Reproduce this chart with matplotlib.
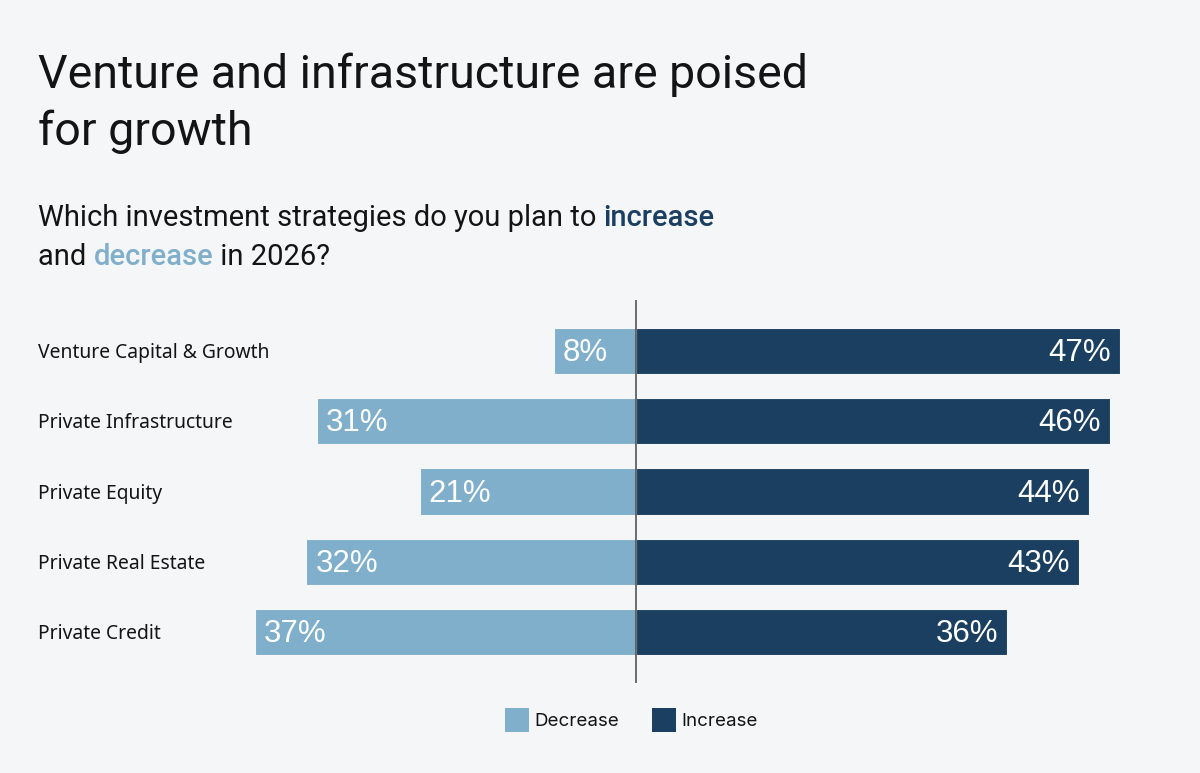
import matplotlib
matplotlib.use("Agg")
import matplotlib.pyplot as plt
import matplotlib.transforms as mtransforms
from matplotlib.patches import Rectangle

categories = ["Venture Capital & Growth", "Private Infrastructure", "Private Equity",
              "Private Real Estate", "Private Credit"]
decrease = [8, 31, 21, 32, 37]
increase = [47, 46, 44, 43, 36]

title_lines = ["Venture and infrastructure are poised", "for growth"]
sub_pieces_1 = [("Which investment strategies do you plan to ", "normal"), ("increase", "inc")]
sub_pieces_2 = [("and ", "normal"), ("decrease", "dec"), (" in 2026?", "normal")]
legend_labels = ["Decrease", "Increase"]

BG = "#f5f6f8"
C_DEC = "#7fafca"
C_INC = "#1b3f60"
TXT = "#141414"

W, H = 1200, 773
fig = plt.figure(figsize=(W / 100, H / 100), dpi=100, facecolor=BG)


def fx(px):
    return px / W


def fy(py):
    return 1 - py / H


# axes placement (pixels)
ax_l, ax_r, ax_t, ax_b = 230, 1160, 300, 683
ax = fig.add_axes([fx(ax_l), fy(ax_b), fx(ax_r) - fx(ax_l), (ax_b - ax_t) / H])
ax.set_facecolor(BG)
k = 10.3  # px per percent
zero_px = 636
ax.set_xlim(-(zero_px - ax_l) / k, (ax_r - zero_px) / k)
ax.set_ylim(4.72, -0.72)
for s in ax.spines.values():
    s.set_visible(False)
ax.set_xticks([])
ax.set_yticks([])

y = list(range(len(categories)))
bh = 0.655
ax.barh(y, [-d for d in decrease], height=bh, color=C_DEC, edgecolor=BG, linewidth=0.8)
ax.barh(y, increase, height=bh, color=C_INC, edgecolor=BG, linewidth=0.8)
ax.axvline(0, color="#555555", linewidth=1.2)

pad = 9 / k
for i, (d, v) in enumerate(zip(decrease, increase)):
    ax.text(-d + pad, i + 0.03, f"{d}%", ha="left", va="center", color="white",
            fontsize=22.5, family="Liberation Sans")
    ax.text(v - pad, i + 0.03, f"{v}%", ha="right", va="center", color="white",
            fontsize=22.5, family="Liberation Sans")

# category labels
trans = mtransforms.blended_transform_factory(fig.transFigure, ax.transData)
for i, c in enumerate(categories):
    ax.text(fx(38), i + 0.03, c, transform=trans, ha="left", va="center", color=TXT,
            fontsize=13.9, family="Noto Sans")

# title
for line, base in zip(title_lines, [88, 145]):
    fig.text(fx(38), fy(base), line, ha="left", va="baseline", color=TXT,
             fontsize=33.5, family="Roboto", fontweight="normal")

# subtitle with coloured words
renderer = fig.canvas.get_renderer()
styles = {"normal": dict(color=TXT, fontweight="normal"),
          "inc": dict(color=C_INC, fontweight="medium"),
          "dec": dict(color=C_DEC, fontweight="medium")}


def draw_line(pieces, x0, base):
    x = x0
    for txt, st in pieces:
        t = fig.text(fx(x), fy(base), txt, ha="left", va="baseline", fontsize=21,
                     family="Roboto", **styles[st])
        bb = t.get_window_extent(renderer)
        x = bb.x1
    return x


draw_line(sub_pieces_1, 38, 226)
draw_line(sub_pieces_2, 38, 265)

# legend
sq = 24
for x0, col, lab in zip([505, 652], [C_DEC, C_INC], legend_labels):
    fig.patches.append(Rectangle((fx(x0), fy(732)), sq / W, sq / H, transform=fig.transFigure,
                                 facecolor=col, edgecolor="none"))
    fig.text(fx(x0 + sq + 5), fy(721), lab, ha="left", va="center", color=TXT,
             fontsize=13.5, family="Inter")

fig.savefig("out.png", dpi=100, facecolor=BG)
